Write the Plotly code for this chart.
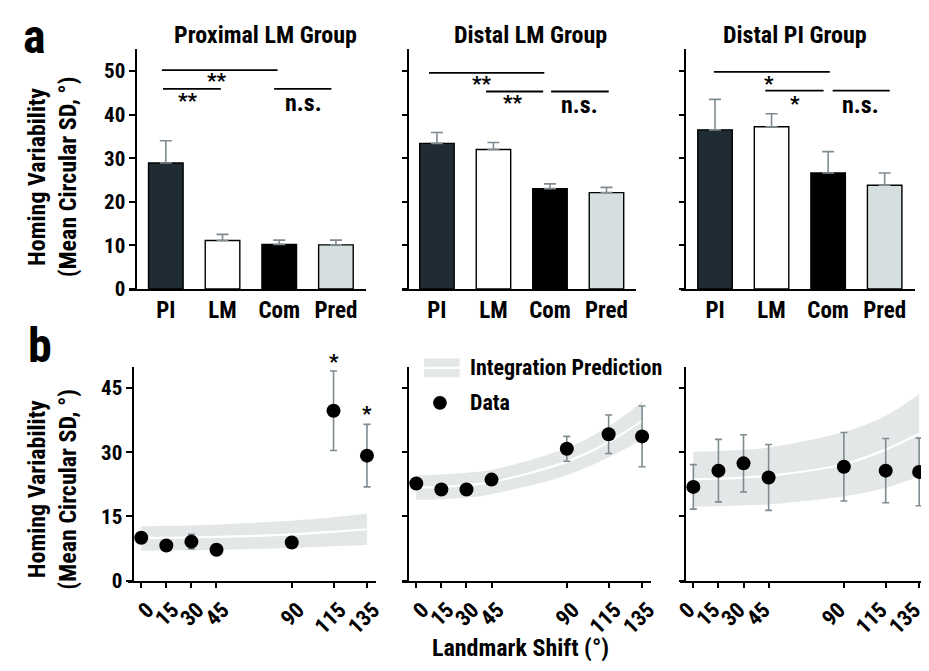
import plotly.graph_objects as go

W, H = 929, 671
FONT = "Liberation Sans Narrow, Arial Narrow, Roboto Condensed, sans-serif"

# ---------------- data: panel a (bars) ----------------
categories = ["PI", "LM", "Com", "Pred"]
group_titles = ["Proximal LM Group", "Distal LM Group", "Distal PI Group"]
bar_means = [
    [28.9, 11.1, 10.2, 10.1],
    [33.4, 32.0, 23.0, 22.1],
    [36.5, 37.2, 26.6, 23.8],
]
bar_errs = [
    [5.1, 1.4, 1.0, 1.1],
    [2.5, 1.6, 1.1, 1.2],
    [7.0, 3.0, 4.9, 2.8],
]
bar_colors = ["#1f2c33", "#ffffff", "#000000", "#d6dfdf"]

# significance brackets: (x0, x1, y) in category units / data units
sig_lines = [
    [(-0.07, 1.97, 50.2), (-0.05, 0.97, 45.9), (1.91, 2.92, 45.9)],
    [(-0.14, 1.90, 49.6), (0.87, 1.88, 45.3), (2.02, 3.04, 45.3)],
    [(-0.02, 2.03, 49.8), (0.89, 1.92, 45.5), (2.08, 3.09, 45.5)],
]
sig_texts = [
    [("**", 0.90, 47.6), ("**", 0.40, 43.2), ("n.s.", 2.42, 42.6)],
    [("**", 0.79, 47.0), ("**", 1.34, 42.6), ("n.s.", 2.53, 42.3)],
    [("*", 0.96, 47.0), ("*", 1.42, 42.4), ("n.s.", 2.58, 42.3)],
]

# ---------------- data: panel b (shift curves) ----------------
shifts = [0, 15, 30, 45, 90, 115, 135]
shift_labels = ["0", "15", "30", "45", "90", "115", "135"]
data_means = [
    [10.0, 8.2, 9.1, 7.2, 8.9, 39.7, 29.2],
    [22.7, 21.3, 21.3, 23.6, 30.8, 34.2, 33.7],
    [21.9, 25.7, 27.4, 24.1, 26.6, 25.7, 25.4],
]
data_errs = [
    [0.8, 0.7, 1.7, 0.7, 1.0, 9.3, 7.3],
    [0.8, 0.8, 0.8, 1.0, 2.9, 4.5, 7.1],
    [5.2, 7.3, 6.7, 7.7, 8.0, 7.5, 7.9],
]
pred_center = [
    [10.0, 10.0, 10.1, 10.2, 10.8, 11.4, 12.0],
    [21.8, 21.9, 22.3, 23.0, 27.8, 32.4, 37.4],
    [23.7, 23.8, 24.1, 24.5, 27.2, 30.6, 34.3],
]
pred_upper = [
    [12.7, 12.8, 12.9, 13.1, 14.0, 14.8, 15.6],
    [24.6, 24.8, 25.2, 25.9, 31.0, 36.0, 41.8],
    [30.1, 30.3, 30.6, 31.1, 34.7, 38.5, 43.6],
]
pred_lower = [
    [7.0, 7.05, 7.1, 7.2, 7.6, 8.0, 8.3],
    [18.9, 19.0, 19.4, 20.2, 24.6, 28.8, 33.0],
    [17.3, 17.4, 17.6, 17.8, 19.7, 21.7, 24.3],
]
star_shifts = [115, 135]
star_pixel_y = [360, 413]

# ---------------- layout geometry (pixels) ----------------
def px(x):
    return x / W

def py(y):
    return 1 - y / H

top_xdom = [(118, 358), (395, 632), (677, 915)]
top_yaxis_pos = [125, 401, 682]
top_xrange = [(-0.643, 3.53), (-0.61, 3.525), (-0.61, 3.54)]
title_px = [256, 525, 793]
bot_xdom = [(117, 368), (395, 647), (676, 928)]
bot_yaxis_pos = [122, 401, 682]
bot_xrange = [(-7.7, 140.3), (-8.25, 140.3), (-8.25, 140.3)]
bot_label_shift = [6, 6, -5]

TOP_Y = (py(286), py(42))
BOT_Y = (py(583), py(365.2))

ERR_COLOR = "#7f8b90"
BAND_COLOR = "#e3e7e7"

fig = go.Figure()
layout = dict(
    width=W, height=H,
    margin=dict(l=0, r=0, t=0, b=0),
    paper_bgcolor="white", plot_bgcolor="rgba(0,0,0,0)",
    showlegend=False,
    font=dict(family=FONT, size=19, color="black"),
    shapes=[], annotations=[],
)


def ann(text, x, y, size, xanchor="center", xref="paper", yref="paper",
        angle=0):
    return dict(text=text, x=x, y=y, xref=xref, yref=yref, showarrow=False,
                xanchor=xanchor, yanchor="middle", textangle=angle,
                align="center",
                font=dict(family=FONT, size=size, color="black",
                          weight="bold"))


axis_common = dict(showgrid=False, zeroline=False, showline=True,
                   linecolor="black", linewidth=1.6, ticks="outside",
                   ticklen=6, tickwidth=1.6, tickcolor="black",
                   tickfont=dict(family=FONT, size=21, color="black",
                                 weight="bold"))

# ---- top row ----
for i in range(3):
    n = i + 1
    xa, ya = f"x{n}", f"y{n}"
    fig.add_trace(go.Bar(
        x=[0, 1, 2, 3], y=bar_means[i], width=0.61,
        marker=dict(color=bar_colors, line=dict(color="black", width=1.4)),
        error_y=dict(type="data", symmetric=False, array=bar_errs[i],
                     arrayminus=[0] * 4, color=ERR_COLOR, thickness=1.6,
                     width=6),
        xaxis=xa, yaxis=ya, hoverinfo="skip"))
    layout[f"xaxis{n}"] = dict(
        axis_common, domain=[px(top_xdom[i][0]), px(top_xdom[i][1])],
        anchor=ya, range=list(top_xrange[i]), tickvals=[0, 1, 2, 3],
        ticktext=categories, ticks="", tickfont=dict(
            family=FONT, size=23, color="black", weight="bold"))
    layout[f"yaxis{n}"] = dict(
        axis_common, domain=list(TOP_Y), anchor="free",
        position=px(top_yaxis_pos[i]), range=[0, 55],
        tickvals=[0, 10, 20, 30, 40, 50], showticklabels=(i == 0))
    for (x0, x1, yv) in sig_lines[i]:
        layout["shapes"].append(dict(type="line", xref=xa, yref=ya,
                                     x0=x0, x1=x1, y0=yv, y1=yv,
                                     line=dict(color="black", width=1.8)))
    for (t, xv, yv) in sig_texts[i]:
        layout["annotations"].append(
            ann(t, xv, yv, 24 if t == "n.s." else 21, xref=xa, yref=ya))
    layout["annotations"].append(
        ann(group_titles[i], px(title_px[i]), py(28), 24))

# ---- bottom row ----
for i in range(3):
    n = i + 4
    xa, ya = f"x{n}", f"y{n}"
    fig.add_trace(go.Scatter(
        x=shifts, y=pred_upper[i], mode="lines", line=dict(width=0,
        shape="spline", color=BAND_COLOR), xaxis=xa, yaxis=ya,
        hoverinfo="skip"))
    fig.add_trace(go.Scatter(
        x=shifts, y=pred_lower[i], mode="lines", line=dict(width=0,
        shape="spline", color=BAND_COLOR), fill="tonexty",
        fillcolor=BAND_COLOR, xaxis=xa, yaxis=ya, hoverinfo="skip"))
    fig.add_trace(go.Scatter(
        x=shifts, y=pred_center[i], mode="lines",
        line=dict(width=2.2, color="white", shape="spline"),
        xaxis=xa, yaxis=ya, hoverinfo="skip"))
    fig.add_trace(go.Scatter(
        x=shifts, y=data_means[i], mode="markers",
        marker=dict(size=14, color="black"),
        error_y=dict(type="data", array=data_errs[i], color=ERR_COLOR,
                     thickness=1.6, width=3.5),
        xaxis=xa, yaxis=ya, hoverinfo="skip"))
    layout[f"xaxis{n}"] = dict(
        axis_common, domain=[px(bot_xdom[i][0]), px(bot_xdom[i][1])],
        anchor=ya, range=list(bot_xrange[i]), tickvals=shifts,
        ticktext=shift_labels, tickangle=-45,
        ticklabelshift=bot_label_shift[i],
        tickfont=dict(family=FONT, size=22, color="black", weight="bold"))
    layout[f"yaxis{n}"] = dict(
        axis_common, domain=list(BOT_Y), anchor="free",
        position=px(bot_yaxis_pos[i]), range=[0, 50],
        tickvals=[0, 15, 30, 45], showticklabels=(i == 0))
    if i == 0:
        for xv, ypx in zip(star_shifts, star_pixel_y):
            layout["annotations"].append(
                ann("*", xv, py(ypx), 21, xref=xa, yref="paper"))

# ---- y-axis titles ----
for yc in (172, 490):
    layout["annotations"].append(
        ann("Homing Variability<br>(Mean Circular SD, °)", px(40), py(yc),
            24, angle=-90))

# ---- panel letters ----
layout["annotations"].append(ann("a", px(22), py(29), 48))
layout["annotations"].append(ann("b", px(27), py(344), 48))

# ---- x title ----
layout["annotations"].append(ann("Landmark Shift (°)", px(515), py(652), 24))

# ---- legend (manual) ----
layout["shapes"].append(dict(type="rect", xref="paper", yref="paper",
    x0=px(417), x1=px(453), y0=py(376), y1=py(357),
    fillcolor=BAND_COLOR, line=dict(width=0)))
layout["shapes"].append(dict(type="line", xref="paper", yref="paper",
    x0=px(417), x1=px(453), y0=py(366.5), y1=py(366.5),
    line=dict(color="white", width=2.2)))
layout["shapes"].append(dict(type="circle", xref="paper", yref="paper",
    x0=px(426), x1=px(440), y0=py(409), y1=py(395),
    fillcolor="black", line=dict(width=0)))
layout["annotations"].append(ann("Integration Prediction", px(461), py(366),
                                 22, xanchor="left"))
layout["annotations"].append(ann("Data", px(461), py(402), 22,
                                 xanchor="left"))

fig.update_layout(**layout)
fig.write_html("out.html")
